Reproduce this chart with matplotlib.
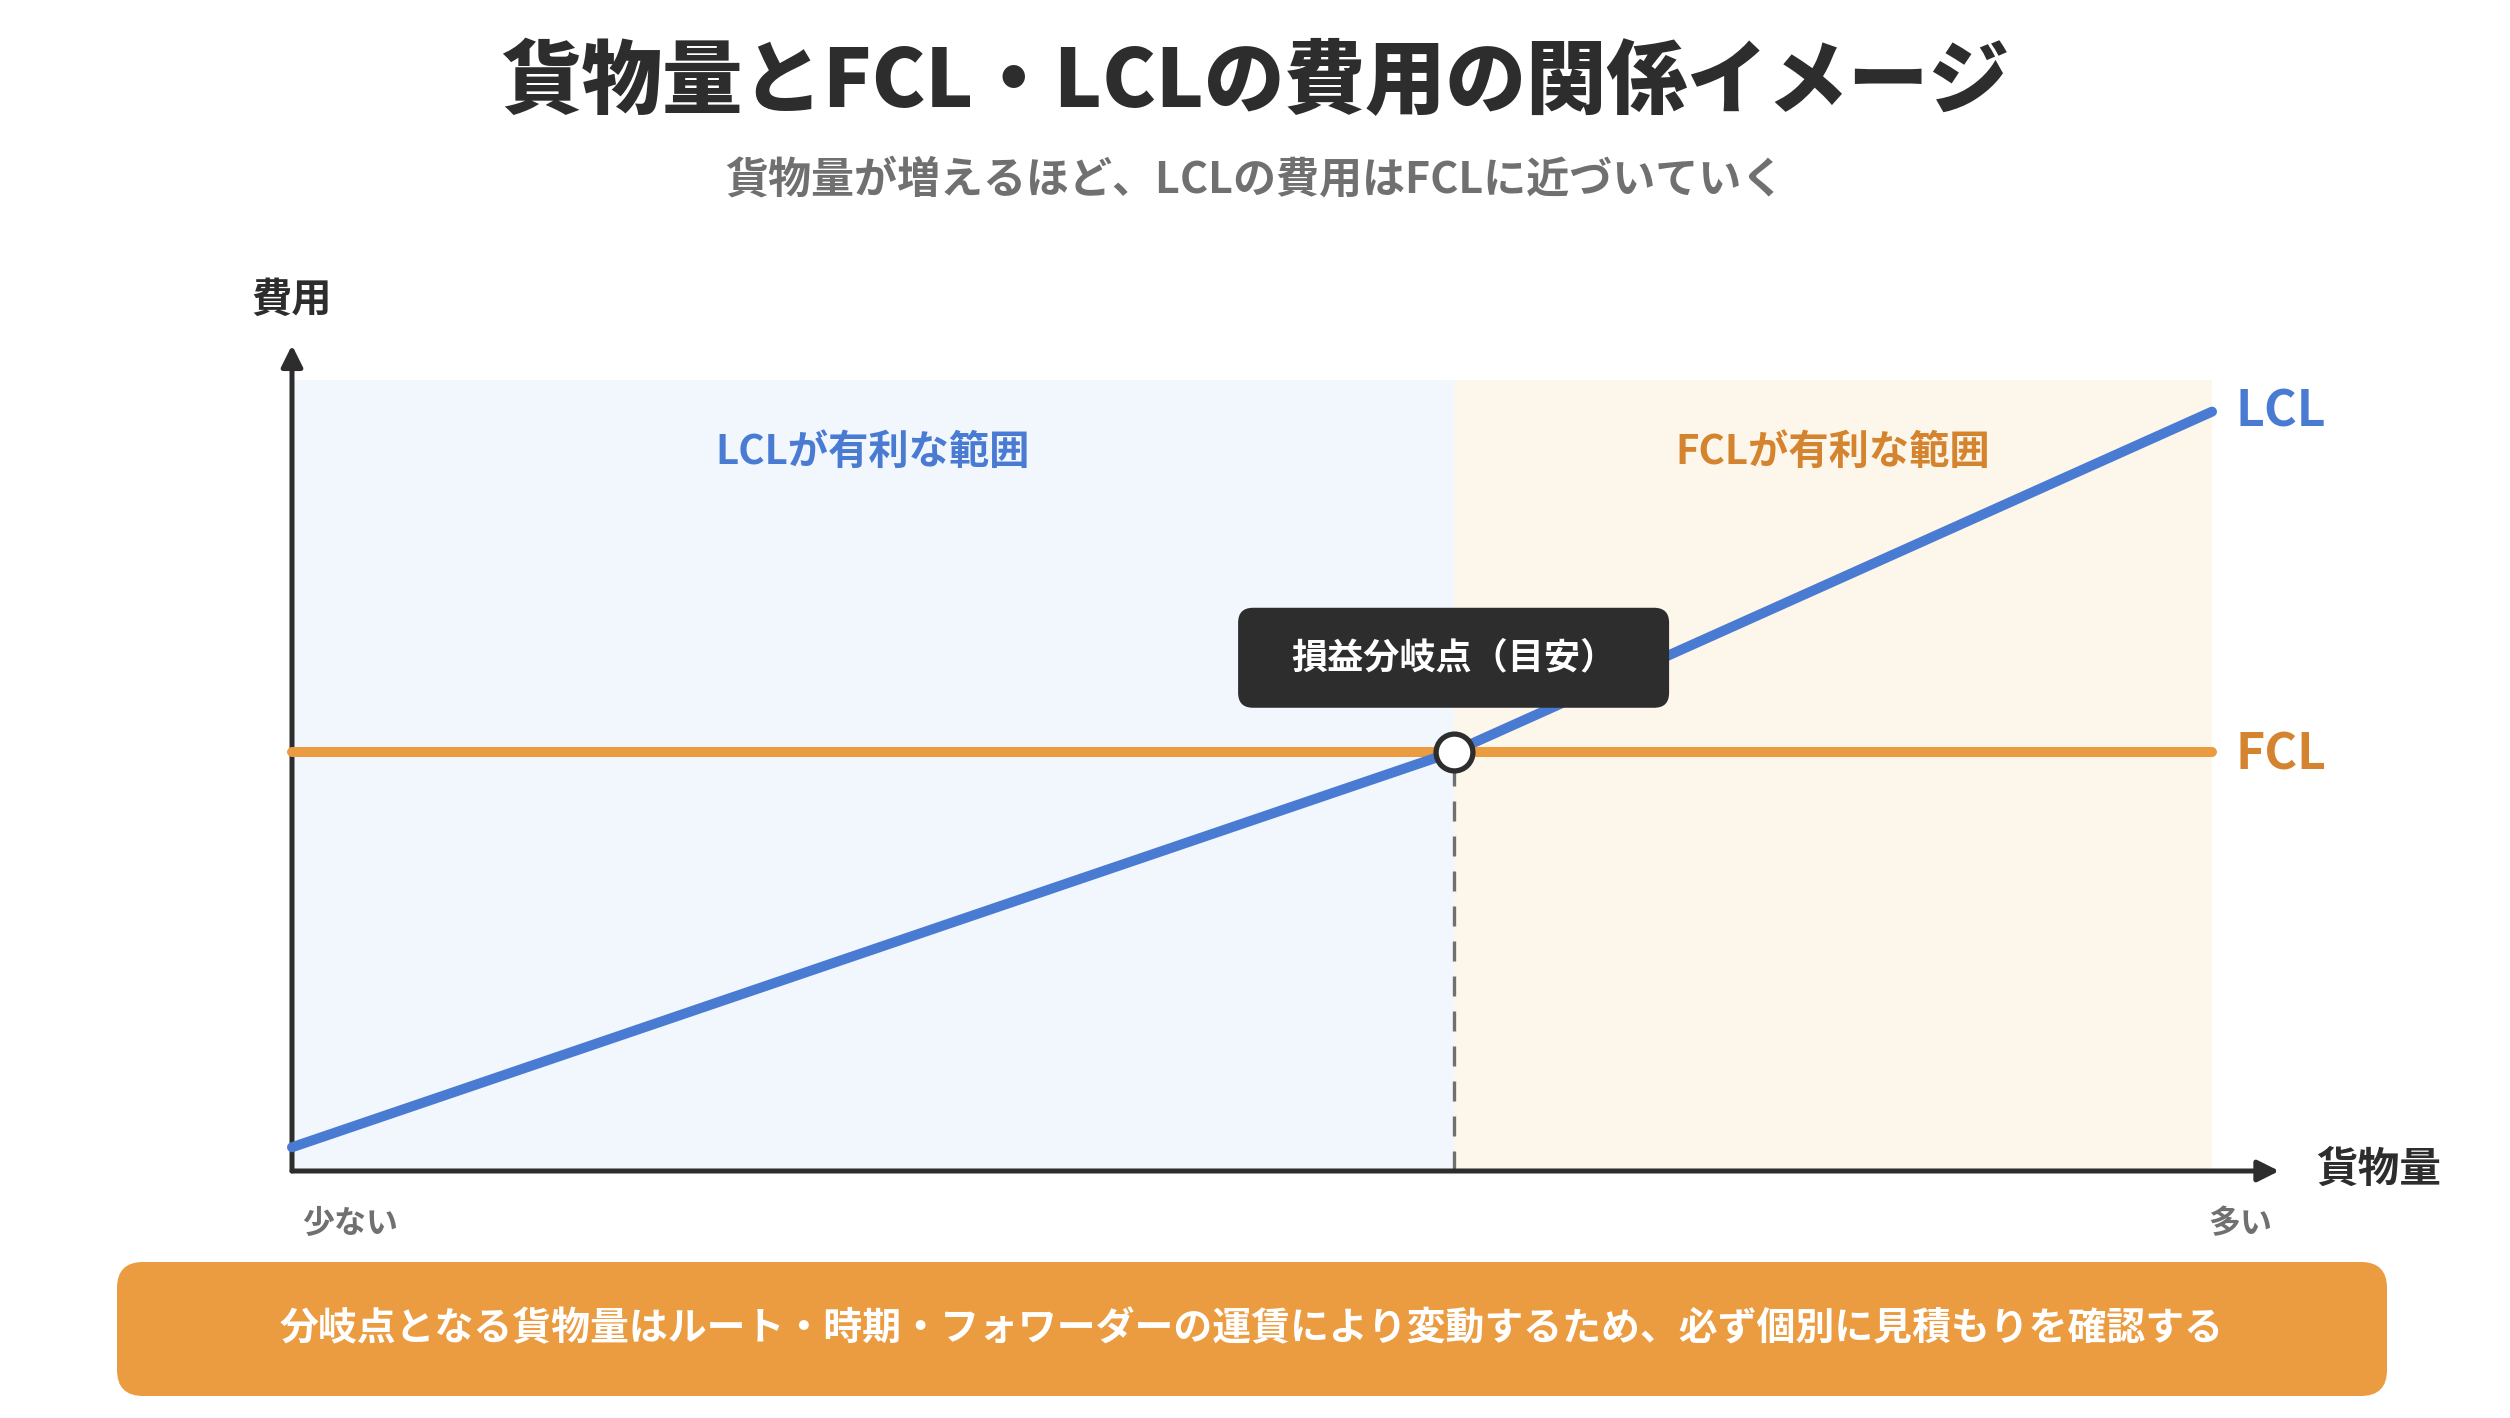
import matplotlib.pyplot as plt
from matplotlib.patches import FancyBboxPatch

plt.rcParams['font.family'] = ['Noto Sans CJK JP', 'DejaVu Sans']

# data (arbitrary units: volume 0-100, cost 0-100)
lcl_x = [0, 60.5, 100]
lcl_y = [3, 53, 96]
fcl_x = [0, 100]
fcl_y = [53, 53]
break_x = 60.5
break_y = 53

title = "貨物量とFCL・LCLの費用の関係イメージ"
subtitle = "貨物量が増えるほど、LCLの費用はFCLに近づいていく"
note = "分岐点となる貨物量はルート・時期・フォワーダーの運賃により変動するため、必ず個別に見積もりを確認する"

DARK = "#2d2d2d"
GREY = "#707070"
BLUE = "#4a7bd2"
ORANGE = "#eb9b40"
ORANGE_TXT = "#d4832f"

W, H = 2510, 1418
fig = plt.figure(figsize=(W / 100, H / 100), dpi=100)

# page layer in pixel coords (titles, banner)
deco = fig.add_axes([0, 0, 1, 1])
deco.set_xlim(0, W)
deco.set_ylim(H, 0)
deco.axis("off")

deco.text(W / 2, 83, title, fontsize=58, fontweight="black", color=DARK,
          ha="center", va="center")
deco.text(W / 2, 180, subtitle, fontsize=31, fontweight="bold", color=GREY,
          ha="center", va="center")
deco.text(292, 300, "費用", fontsize=29, fontweight="bold", color=DARK,
          ha="center", va="center")
deco.text(2316, 1170, "貨物量", fontsize=30, fontweight="bold", color=DARK,
          ha="left", va="center")
deco.text(302, 1224, "少ない", fontsize=23, fontweight="bold", color=GREY,
          ha="left", va="center")
deco.text(2272, 1224, "多い", fontsize=23, fontweight="bold", color=GREY,
          ha="right", va="center")

banner = FancyBboxPatch((117, 1262), 2270, 134,
                        boxstyle="round,pad=0,rounding_size=26",
                        fc=ORANGE, ec="none")
deco.add_patch(banner)
deco.text(1252, 1329, note, fontsize=28, fontweight="bold", color="white",
          ha="center", va="center")

# chart
ax = fig.add_axes([292 / W, (H - 1171) / H, 1920 / W, 791 / H])
ax.set_xlim(0, 100)
ax.set_ylim(0, 100)
ax.axis("off")

ax.axvspan(0, break_x, color="#f2f6fd", lw=0, zorder=0)
ax.axvspan(break_x, 100, color="#fdf6eb", lw=0, zorder=0)

ax.text(break_x / 2, 90.8, "LCLが有利な範囲", fontsize=29, fontweight="bold",
        color=BLUE, ha="center", va="center")
ax.text((break_x + 100) / 2, 90.8, "FCLが有利な範囲", fontsize=29,
        fontweight="bold", color=ORANGE_TXT, ha="center", va="center")

arrow = dict(arrowstyle="-|>", color=DARK, lw=3.6, mutation_scale=32,
             shrinkA=0, shrinkB=0)
ax.annotate("", xy=(0, 104.4), xytext=(0, 0), arrowprops=arrow,
            annotation_clip=False, zorder=2)
ax.annotate("", xy=(103.5, 0), xytext=(0, 0), arrowprops=arrow,
            annotation_clip=False, zorder=2)

ax.plot([break_x, break_x], [0, break_y], color=GREY, lw=2.4,
        dashes=(6, 4.5), zorder=1)

ax.plot(fcl_x, fcl_y, color=ORANGE, lw=7.2, solid_capstyle="round",
        zorder=3, clip_on=False)
ax.plot(lcl_x, lcl_y, color=BLUE, lw=7.2, solid_capstyle="round",
        solid_joinstyle="round", zorder=4, clip_on=False)

ax.plot([break_x], [break_y], "o", ms=26.5, mfc="white", mec=DARK, mew=3.8,
        zorder=5, clip_on=False)

ax.annotate("LCL", xy=(lcl_x[-1], lcl_y[-1]), xytext=(17, 0),
            textcoords="offset points", fontsize=36, fontweight="bold",
            color=BLUE, ha="left", va="center", annotation_clip=False)
ax.annotate("FCL", xy=(fcl_x[-1], fcl_y[-1]), xytext=(17, -2),
            textcoords="offset points", fontsize=36, fontweight="bold",
            color=ORANGE_TXT, ha="left", va="center", annotation_clip=False)

# tooltip above the break point
px_x = 1920 / 100
px_y = 791 / 100
box_w = 431 / px_x
box_h = 100 / px_y
box_bottom = break_y + 44 / px_y
tip = FancyBboxPatch((break_x - box_w / 2, box_bottom), box_w, box_h,
                     boxstyle="round,pad=0,rounding_size=%f" % (15 / px_x),
                     mutation_aspect=px_x / px_y,
                     fc=DARK, ec="none", zorder=6)
ax.add_patch(tip)
ax.text(break_x, box_bottom + box_h / 2, "損益分岐点（目安）", fontsize=26,
        fontweight="bold", color="white", ha="center", va="center", zorder=7)

fig.savefig("out.png", dpi=100)
